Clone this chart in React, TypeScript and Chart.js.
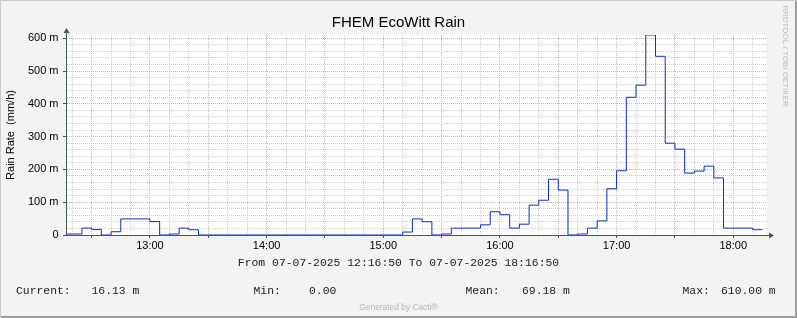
import React, { useEffect, useRef } from 'react';
import { Chart, registerables } from 'chart.js';

Chart.register(...registerables);

// ---- text ----
const chartTitle = 'FHEM EcoWitt Rain';
const yAxisTitle = 'Rain Rate  (mm/h)';
const periodText = 'From 07-07-2025 12:16:50 To 07-07-2025 18:16:50';
const watermark = 'RRDTOOL / TOBI OETIKER';
const generatedBy = 'Generated by Cacti®';

// ---- time range ----
const rangeStart = '12:16:50';
const rangeEnd = '18:16:50';
const binMinutes = 5;

// ---- categories: start of each 5‑minute RRD bin ----
const binStarts = [
  '12:15', '12:20', '12:25', '12:30', '12:35', '12:40', '12:45', '12:50', '12:55',
  '13:00', '13:05', '13:10', '13:15', '13:20', '13:25', '13:30', '13:35', '13:40', '13:45', '13:50', '13:55',
  '14:00', '14:05', '14:10', '14:15', '14:20', '14:25', '14:30', '14:35', '14:40', '14:45', '14:50', '14:55',
  '15:00', '15:05', '15:10', '15:15', '15:20', '15:25', '15:30', '15:35', '15:40', '15:45', '15:50', '15:55',
  '16:00', '16:05', '16:10', '16:15', '16:20', '16:25', '16:30', '16:35', '16:40', '16:45', '16:50', '16:55',
  '17:00', '17:05', '17:10', '17:15', '17:20', '17:25', '17:30', '17:35', '17:40', '17:45', '17:50', '17:55',
  '18:00', '18:05', '18:10',
];

// ---- series: rain rate (milli mm/h) ----
const rainRate = [
  3, 3, 21, 17, 0, 10, 49, 49, 49,
  41, 0, 3, 21, 16, 0, 0, 0, 0, 0, 0, 0,
  0, 0, 0, 0, 0, 0, 0, 0, 0, 0, 0, 0,
  0, 0, 9, 49, 40.5, 0, 3, 21, 21, 21, 31, 71,
  62, 21, 33, 91, 106, 170, 137, 0, 3, 21, 43, 141,
  196, 420, 457, 610, 545, 280, 262, 189, 195, 210, 174, 21,
  21, 21, 16.13,
];

// ---- axis labels ----
const hourLabels = ['13:00', '14:00', '15:00', '16:00', '17:00', '18:00'];
const yTickLabels = ['0', '100 m', '200 m', '300 m', '400 m', '500 m', '600 m'];
const yMax = 610;

// ---- legend ----
const legendLabels = ['Current:', 'Min:', 'Mean:', 'Max:'];
const legendValues = ['16.13 m', '0.00', '69.18 m', '610.00 m'];

const toMin = (s: string) => {
  const p = s.split(':').map(Number);
  return p[0] * 60 + p[1] + (p[2] || 0) / 60;
};

const SANS = "'Liberation Sans', Arial, sans-serif";
const MONO = "'Liberation Mono', 'Courier New', monospace";
const AXIS = '#3f5a50';
const MAJOR = 'rgba(232, 150, 150, 0.85)';
const MINOR = 'rgba(200, 200, 200, 0.9)';

const framePlugin = {
  id: 'rrdFrame',
  beforeDraw(chart: any) {
    const { ctx, width, height, chartArea: a } = chart;
    ctx.save();
    ctx.fillStyle = '#f3f3f3';
    ctx.fillRect(0, 0, width, height);
    ctx.fillStyle = '#ffffff';
    ctx.fillRect(a.left, a.top, a.right - a.left, a.bottom - a.top);
    ctx.restore();
  },
  afterDraw(chart: any) {
    const { ctx, width, height, chartArea: a } = chart;
    ctx.save();
    // axis extensions and arrows
    const ax = Math.round(a.left) + 0.5;
    const ay = Math.round(a.bottom) + 0.5;
    ctx.strokeStyle = AXIS;
    ctx.fillStyle = AXIS;
    ctx.lineWidth = 1;
    ctx.beginPath();
    ctx.moveTo(ax, a.top);
    ctx.lineTo(ax, a.top - 3);
    ctx.moveTo(a.right, ay);
    ctx.lineTo(a.right + 3, ay);
    ctx.stroke();
    ctx.beginPath();
    ctx.moveTo(ax - 3, a.top - 2);
    ctx.lineTo(ax + 3, a.top - 2);
    ctx.lineTo(ax, a.top - 7);
    ctx.closePath();
    ctx.fill();
    ctx.beginPath();
    ctx.moveTo(a.right + 3, ay - 3);
    ctx.lineTo(a.right + 3, ay + 3);
    ctx.lineTo(a.right + 8, ay);
    ctx.closePath();
    ctx.fill();

    // footer texts
    ctx.fillStyle = '#222';
    ctx.textBaseline = 'middle';
    ctx.font = `11.4px ${MONO}`;
    ctx.textAlign = 'center';
    ctx.fillText(periodText, width / 2, 263);
    ctx.textAlign = 'left';
    const labelX = [16, 253.5, 465.5, 682.5];
    const valueX = [91.5, 309, 522, 721];
    legendLabels.forEach((l, i) => {
      ctx.fillText(l, labelX[i], 291);
      ctx.fillText(legendValues[i], valueX[i], 291);
    });
    ctx.textAlign = 'center';
    ctx.fillStyle = '#b4b4b4';
    ctx.font = `8.4px ${SANS}`;
    ctx.fillText(generatedBy, width / 2, 307.5);

    // vertical watermark
    ctx.save();
    ctx.translate(785, 56);
    ctx.rotate(Math.PI / 2);
    ctx.fillStyle = '#bcbcbc';
    ctx.font = `8px ${SANS}`;
    ctx.textAlign = 'center';
    ctx.fillText(watermark, 0, 0);
    ctx.restore();

    // outer frame
    ctx.lineWidth = 1;
    ctx.strokeStyle = '#cccccc';
    ctx.beginPath();
    ctx.moveTo(0.5, height);
    ctx.lineTo(0.5, 0.5);
    ctx.lineTo(width, 0.5);
    ctx.stroke();
    ctx.strokeStyle = '#9c9c9c';
    ctx.lineWidth = 2;
    ctx.beginPath();
    ctx.moveTo(1, height - 1);
    ctx.lineTo(width - 1, height - 1);
    ctx.lineTo(width - 1, 1);
    ctx.stroke();
    ctx.restore();
  },
};

export default function App() {
  const ref = useRef<HTMLCanvasElement | null>(null);

  useEffect(() => {
    document.body.style.margin = '0';
    const xMin = toMin(rangeStart);
    const xMax = toMin(rangeEnd);
    const points = binStarts.map((t, i) => ({ x: toMin(t), y: rainRate[i] }));
    points.push({
      x: toMin(binStarts[binStarts.length - 1]) + binMinutes,
      y: rainRate[rainRate.length - 1],
    });

    const xTicks: number[] = [];
    for (let v = Math.ceil(xMin / 10) * 10; v <= xMax; v += 10) xTicks.push(v);
    const yTicks: number[] = [];
    for (let v = 0; v <= 600; v += 20) yTicks.push(v);

    const chart = new Chart(ref.current as HTMLCanvasElement, {
      type: 'line',
      data: {
        datasets: [
          {
            data: points,
            stepped: 'before',
            borderColor: '#0a2ec8',
            borderWidth: 1,
            pointRadius: 0,
            fill: false,
          },
        ],
      },
      options: {
        animation: false,
        responsive: false,
        events: [],
        layout: { padding: 0 },
        plugins: {
          legend: { display: false },
          tooltip: { enabled: false },
          title: {
            display: true,
            text: chartTitle,
            color: '#000',
            font: { family: SANS, size: 15, weight: 'normal' },
            padding: { top: 14, bottom: 3 },
          },
        },
        scales: {
          x: {
            type: 'linear',
            position: 'bottom',
            min: xMin,
            max: xMax,
            afterBuildTicks: (s: any) => {
              s.ticks = xTicks.map((v) => ({ value: v }));
            },
            afterFit: (s: any) => {
              s.height = 83;
              s.paddingLeft = 0;
              s.paddingRight = 0;
            },
            ticks: {
              autoSkip: false,
              maxRotation: 0,
              padding: 1,
              color: '#000',
              font: { family: SANS, size: 11 },
              callback: (v: any) => {
                const lbl = hourLabels.find((h) => toMin(h) === Number(v));
                return lbl ?? '';
              },
            },
            grid: {
              color: (c: any) => (c.tick && c.tick.value % 30 === 0 ? MAJOR : MINOR),
              lineWidth: 1,
              drawTicks: true,
              tickLength: 3,
              tickColor: (c: any) => (c.tick && c.tick.value % 30 === 0 ? AXIS : 'rgba(0,0,0,0)'),
              tickBorderDash: [],
            },
            border: { display: true, color: AXIS, width: 1, dash: [1, 1] },
          },
          y: {
            type: 'linear',
            position: 'left',
            min: 0,
            max: yMax,
            afterBuildTicks: (s: any) => {
              s.ticks = yTicks.map((v) => ({ value: v }));
            },
            afterFit: (s: any) => {
              s.width = 66;
              s.paddingTop = 0;
              s.paddingBottom = 0;
            },
            ticks: {
              autoSkip: false,
              padding: 4.5,
              color: '#000',
              font: { family: SANS, size: 11 },
              callback: (v: any) => (Number(v) % 100 === 0 ? yTickLabels[Number(v) / 100] : ''),
            },
            grid: {
              color: (c: any) => (c.tick && c.tick.value % 100 === 0 ? MAJOR : MINOR),
              lineWidth: 1,
              drawTicks: true,
              tickLength: 3,
              tickColor: (c: any) => (c.tick && c.tick.value % 100 === 0 ? AXIS : 'rgba(0,0,0,0)'),
              tickBorderDash: [],
            },
            border: { display: true, color: AXIS, width: 1, dash: [1, 1] },
            title: {
              display: true,
              text: yAxisTitle,
              color: '#000',
              font: { family: SANS, size: 11 },
              padding: { top: 4, bottom: 0 },
            },
          },
          y2: {
            type: 'linear',
            position: 'right',
            display: true,
            grid: { display: false, drawTicks: false },
            ticks: { display: false },
            border: { display: false },
            afterFit: (s: any) => {
              s.width = 31;
              s.paddingTop = 0;
              s.paddingBottom = 0;
            },
          },
        },
      },
      plugins: [framePlugin],
    });
    return () => chart.destroy();
  }, []);

  return (
    <div style={{ position: 'absolute', left: 0, top: 0, width: 797, height: 318 }}>
      <canvas ref={ref} width={797} height={318} style={{ display: 'block' }} />
    </div>
  );
}
